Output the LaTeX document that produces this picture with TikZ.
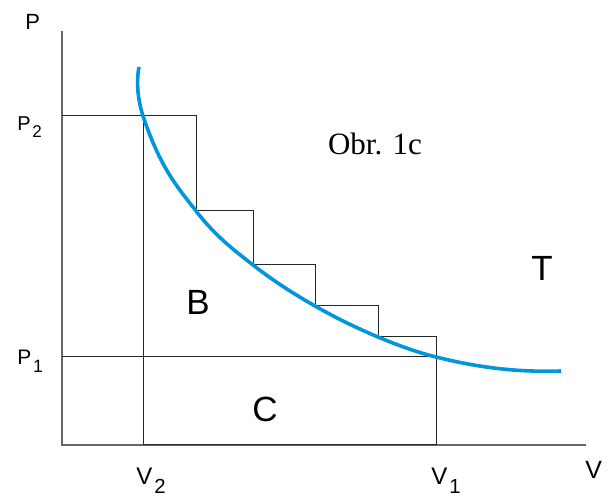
\documentclass[tikz,border=0pt]{standalone}
\usepackage{fontspec}
\setmainfont{Liberation Sans}
\newfontfamily\timesfont{Liberation Serif}
\usepackage{tikz}
\definecolor{isotherm_color}{RGB}{0, 150, 220}
\newcommand{\lowidx}[1]{\kern0.08em\raisebox{-0.34em}{\scalebox{0.85}{#1}}}

\begin{document}
\begin{tikzpicture}[
    x=0.5pt, y=0.5pt,
    axisline/.style={draw=black!60, line width=0.6pt},
    boxline/.style={draw=black!85, line width=0.5pt},
    isotherm/.style={draw=isotherm_color, line width=1.8pt},
    axlabel/.style={anchor=base west, inner sep=0pt, font=\fontsize{11}{13}\selectfont},
    sublabel/.style={anchor=base west, inner sep=0pt, font=\fontsize{12}{14}\selectfont},
    area/.style={anchor=base, inner sep=0pt, font=\fontsize{17.5}{20}\selectfont}]
    \useasboundingbox (0,0) rectangle (610,497);
    % axes
    \coordinate (top) at (62,466);
    \coordinate (O) at (62,52);
    \coordinate (right) at (586,52);
    \draw[axisline] (top) -- (O) -- (right);
    % work as steps between P2 and P1
    \draw[boxline] (62,381) -- (196,381) -- (196,286) -- (253,286)
      -- (253,232) -- (315,232) -- (315,191) -- (378,191)
      -- (378,160) -- (436,160) -- (436,52);
    \draw[boxline] (143,381) -- (143,52) -- (436,52);
    \draw[boxline] (62,140) -- (436,140);
    % isotherm
    \draw[isotherm] (139,430) .. controls (136,415) and (138,396) .. (143,381)
      .. controls (160.7,327.9) and (178.3,309) .. (196,286)
      .. controls (215,261.3) and (234,246.8) .. (253,232)
      .. controls (273.7,215.9) and (294.3,202.8) .. (315,191)
      .. controls (336,179) and (357,168.8) .. (378,160)
      .. controls (397.3,151.9) and (416.7,144.8) .. (436,140)
      .. controls (476,130) and (515,124.5) .. (561,126);
    % labels
    \node[axlabel] (lblP) at (25,467) {P};
    \node[axlabel, font=\fontsize{12.5}{14}\selectfont] (lblV) at (585,18) {V};
    \node[axlabel, font=\fontsize{10}{12}\selectfont] (lblP2) at (17,366)
      {P\lowidx{2}};
    \node[axlabel, font=\fontsize{10.5}{12}\selectfont] (lblP1) at (17,132)
      {P\lowidx{1}};
    \node[sublabel] (lblV2) at (136,12) {V\lowidx{2}};
    \node[sublabel] (lblV1) at (431,12) {V\lowidx{1}};
    \node[area] (lblB) at (198,182) {B};
    \node[area] (lblC) at (265,75) {C};
    \node[area] (lblT) at (542,216) {T};
    \node[anchor=base, inner sep=0pt, font=\timesfont\fontsize{15.5}{18}\selectfont]
      (caption) at (375,342) {Obr. 1c};
\end{tikzpicture}
\end{document}
